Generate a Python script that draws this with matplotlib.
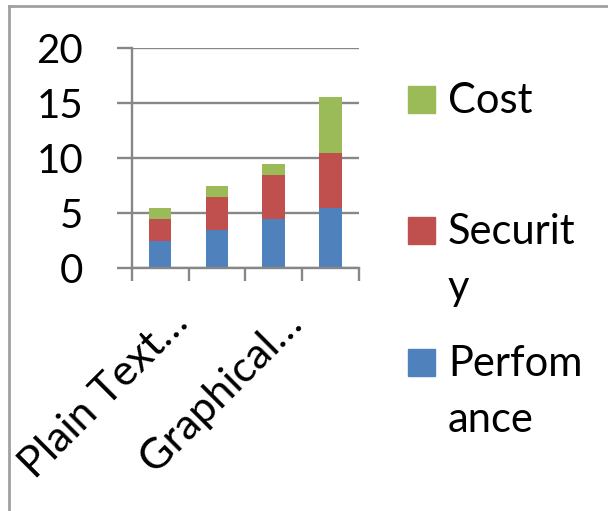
import matplotlib
matplotlib.use("Agg")
import matplotlib.pyplot as plt
from matplotlib.lines import Line2D
from matplotlib.patches import Rectangle
import numpy as np

plt.rcParams['font.family'] = ['Lato', 'DejaVu Sans']

# data
categories = ["Plain Text…", "", "Graphical…", ""]
performance = [2.5, 3.5, 4.5, 5.5]
security = [2, 3, 4, 5]
cost = [1, 1, 1, 5]
series_names = ["Perfom\nance", "Securit\ny", "Cost"]
colors = ["#4F81BD", "#C0504D", "#9BBB59"]
yticks = [0, 5, 10, 15, 20]

W, H = 608, 511
fig = plt.figure(figsize=(W / 100, H / 100), dpi=100)
ax = fig.add_axes([0.2166, 0.4755, 0.3739, 0.4306])

x = np.arange(len(categories))
w = 0.4
grid_c = "#878787"

for v in yticks:
    ax.axhline(v, color=grid_c, lw=1.7, zorder=0)

bars = []
bottom = np.zeros(len(categories))
for vals, col in zip([performance, security, cost], colors):
    bars.append(ax.bar(x, vals, w, bottom=bottom, color=col, zorder=2))
    bottom = bottom + np.array(vals)

ax.set_xlim(-0.5, 3.5)
ax.set_ylim(0, 20)
ax.set_yticks(yticks)
ax.set_yticklabels([str(v) for v in yticks], fontsize=29)

# category boundary ticks + rotated labels at category centres
ax.set_xticks(np.arange(-0.5, 4.0, 1.0))
ax.set_xticklabels([])
ax.set_xticks(x, minor=True)
ax.set_xticklabels(categories, minor=True, rotation=45, ha='right', va='baseline',
                   rotation_mode='anchor', fontsize=31)
ax.tick_params(axis='x', which='minor', length=0, pad=41)
ax.tick_params(axis='x', which='major', length=9, width=1.7, color=grid_c)
ax.tick_params(axis='y', length=11, width=1.7, color=grid_c, pad=24)
import matplotlib.transforms as mtransforms
offset = mtransforms.ScaledTranslation(30 / 100, 0, fig.dpi_scale_trans)
for lab in ax.get_xticklabels(minor=True):
    lab.set_transform(lab.get_transform() + offset)

for s in ['top', 'right']:
    ax.spines[s].set_visible(False)
for s in ['left', 'bottom']:
    ax.spines[s].set_color(grid_c)
    ax.spines[s].set_linewidth(1.7)

# legend, Excel style: reversed order, swatch beside the first line
legend_top = [86, 217, 349]          # swatch top edges (px)
for top, name, col in zip(legend_top, series_names[::-1], colors[::-1]):
    fig.add_artist(Rectangle((408 / W, 1 - (top + 27) / H), 27 / W, 27 / H,
                             transform=fig.transFigure, color=col))
    for i, line in enumerate(name.split("\n")):
        fig.text(448 / W, 1 - (top + 27 + i * 56) / H, line, fontsize=30,
                 va='baseline', ha='left')

# outer chart border (left and top visible)
fig.add_artist(Line2D([9 / W, 9 / W], [0, 1 - 6 / H], color="#A0A0A0", lw=2))
fig.add_artist(Line2D([9 / W, 1], [1 - 6 / H, 1 - 6 / H], color="#A0A0A0", lw=2))

fig.savefig("out.png", dpi=100)
